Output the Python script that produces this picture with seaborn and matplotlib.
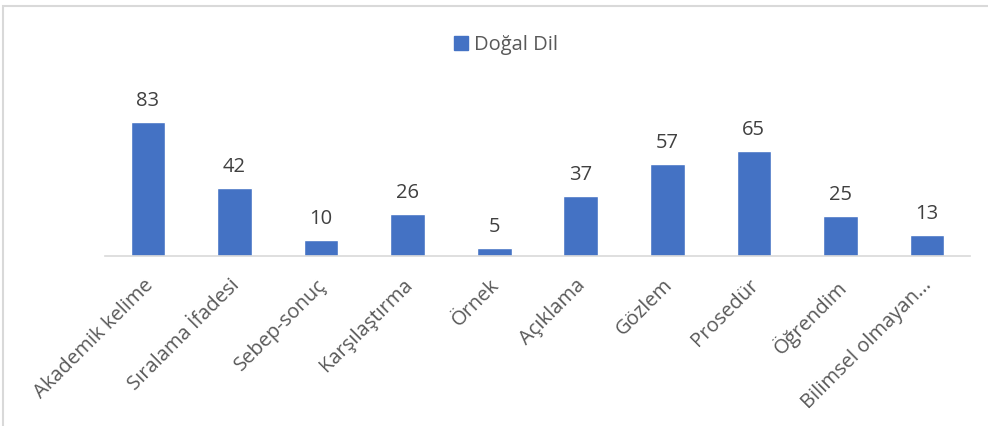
import pandas as pd
import seaborn as sns
import matplotlib.pyplot as plt
import matplotlib.transforms as mtransforms
from matplotlib.patches import Rectangle

categories = ['Akademik kelime', 'Sıralama İfadesi', 'Sebep-sonuç', 'Karşılaştırma', 'Örnek',
              'Açıklama', 'Gözlem', 'Prosedür', 'Öğrendim', 'Bilimsel olmayan...']
values = [83, 42, 10, 26, 5, 37, 57, 65, 25, 13]
series = 'Doğal Dil'

df = pd.DataFrame({'Kategori': categories, 'Değer': values, 'Seri': series})

sns.set_theme(style='white')
plt.rcParams['font.family'] = ['Open Sans', 'DejaVu Sans']

fig = plt.figure(figsize=(9.88, 4.26), dpi=100)
ax = fig.add_axes([0.106, 0.399, 0.876, 0.379])

sns.barplot(data=df, x='Kategori', y='Değer', hue='Seri', palette=['#4472C4'],
            saturation=1, width=0.4, ax=ax, legend=False)
ax.bar_label(ax.containers[0], padding=8, fontsize=14.5, color='#404040')

ax.set_xlim(-0.5, 9.5)
ax.set_ylim(0, 100)
ax.set_xlabel('')
ax.set_ylabel('')
ax.set_yticks([])
for s in ['top', 'right', 'left']:
    ax.spines[s].set_visible(False)
ax.spines['bottom'].set_color('#d9d9d9')
ax.spines['bottom'].set_linewidth(1.2)
ax.tick_params(axis='x', length=0, pad=14)
shift = mtransforms.ScaledTranslation(-5 / 100, 0, fig.dpi_scale_trans)
for lab in ax.get_xticklabels():
    lab.set_rotation(45)
    lab.set_ha('right')
    lab.set_rotation_mode('anchor')
    lab.set_fontsize(14.5)
    lab.set_color('#595959')
    lab.set_transform(lab.get_transform() + shift)

handle = Rectangle((0, 0), 1, 1, color='#4472C4')
fig.legend([handle], [series], loc='center', bbox_to_anchor=(0.512, 0.895),
           frameon=False, fontsize=14.5, labelcolor='#595959',
           handlelength=0.7, handleheight=0.7, handletextpad=0.3)

# outer chart border
fig.patches.append(Rectangle((3 / 988, -0.01), 1.0, 1 - 5.5 / 426 + 0.01,
                             transform=fig.transFigure, fill=False,
                             edgecolor='#d9d9d9', linewidth=1.5))

fig.savefig('out.png', dpi=100)
